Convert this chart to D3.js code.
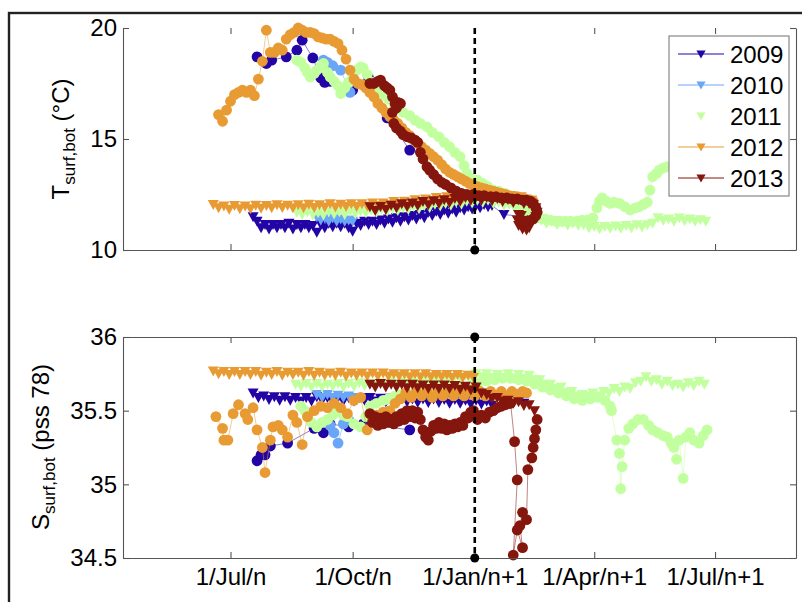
<!DOCTYPE html>
<html><head><meta charset="utf-8">
<script src="https://cdn.jsdelivr.net/npm/d3@7"></script>
<style>
body{margin:0;background:#fff}
svg{display:block}
text{font-family:"Liberation Sans",Arial,sans-serif;fill:#000}
</style>
</head><body>
<svg id="c" width="802" height="602"></svg>
<script>
// ---------- axis / category data ----------
const xTickDays = [181, 273, 365, 455, 546];
const xTickLabels = ["1/Jul/n", "1/Oct/n", "1/Jan/n+1", "1/Apr/n+1", "1/Jul/n+1"];
const tTicks = [10, 15, 20];
const sTicks = [34.5, 35, 35.5, 36];
const years = ["2009", "2010", "2011", "2012", "2013"];
const yearColors = ["#2305a5", "#6aa6f8", "#c2ff9e", "#e89b33", "#84160d"];
const markerDay = 365;

// ---------- temperature: surface (circles) ----------
const tSurf2009Days = [201, 208, 212, 223, 231, 235, 243, 249, 252, 256, 273, 285, 299, 316];
const tSurf2009 = [18.7, 18.4, 18.55, 18.7, 19.0, 19.45, 18.65, 17.75, 17.55, 17.6, 17.2, 17.75, 15.95, 14.5];
const tSurf2010Days = [251, 254, 258, 264, 269, 271];
const tSurf2010 = [18.55, 18.45, 18.3, 18.1, 17.4, 17.1];
const tSurf2011Days = [231,234,237,239,241,244,246,249,251,254,256,259,262,264,267,270,273,276,279,281,284,288,292,296,300,304,308,311,316,320,324,329,333,338,342,346,350,354,357,359,363,367,371,375,379,383,388,392,396,400,404,408,411,414,418,422,426,429,433,437,442,446,450,454,457,459,461,464,467,470,474,478,482,486,489,492,495,497,499,502,504,507,510];
const tSurf2011 = [18.55,18.45,18.2,18.0,17.8,17.95,18.1,18.3,18.4,18.0,17.8,17.6,17.4,17.05,17.3,17.55,17.8,18.1,18.25,18.2,17.9,17.55,17.2,17.0,16.8,16.6,16.4,16.2,16.05,15.85,15.7,15.55,15.3,15.1,14.85,14.65,14.4,14.2,13.8,13.45,13.2,13.15,13.0,12.85,12.7,12.65,12.55,12.4,12.35,12.2,11.95,11.75,11.55,11.45,11.4,11.35,11.3,11.3,11.3,11.3,11.3,11.35,11.35,11.45,11.9,12.2,12.35,12.2,12.1,12.15,12.1,11.95,11.8,11.9,11.95,12.05,12.15,12.7,13.3,13.45,13.6,13.7,13.75];
const tSurf2012Start = 172, tSurf2012Step = 3;
const tSurf2012 = [16.1,15.8,16.3,16.7,17.0,17.1,17.2,17.1,17.2,16.95,17.7,18.5,19.9,18.9,18.9,19.1,19.0,19.5,19.7,19.8,20.0,19.9,19.8,19.8,19.75,19.6,19.55,19.5,19.5,19.4,19.3,19.0,18.6,18.1,17.7,17.5,17.45,17.3,17.1,16.9,16.6,16.4,16.2,16.0,15.85,15.7,15.5,15.3,15.15,14.95,14.8,14.65,14.5,14.35,14.2,14.05,13.85,13.65,13.5,13.4,13.3,13.2,13.1,13.0,12.9,12.85,12.8,12.75,12.7,12.65,12.6,12.55,12.5,12.45,12.4,12.4,12.35,12.3,12.25,12.2];
const tSurf2013Days = [286,289,292,294,297,299,301,303,305,307,309,306,303,304,306,309,311,314,317,320,322,324,326,329,331,334,337,340,343,347,351,355,359,364,368,372,377,381,385,389,393,397,401,404,407,409,411,412,411,409,406,403,400];
const tSurf2013 = [17.5,17.5,17.6,17.65,17.4,17.3,17.2,16.9,16.6,16.65,16.6,16.4,16.2,15.7,15.5,15.35,15.2,15.1,15.05,14.95,14.85,14.4,14.1,13.75,13.6,13.4,13.2,13.05,12.95,12.8,12.65,12.55,12.5,12.5,12.45,12.45,12.4,12.4,12.35,12.35,12.3,12.3,12.25,12.25,12.2,12.1,11.9,11.7,11.55,11.4,11.3,11.3,11.35];

// ---------- temperature: bottom (triangles) ----------
const tBot2009Start = 198, tBot2009Step = 3;
const tBot2009 = [11.5,11.3,11.0,11.15,10.95,11.15,11.0,11.15,11.0,11.2,10.95,11.15,11.0,11.15,11.0,11.1,10.8,11.15,11.0,11.2,11.05,11.2,11.05,11.2,11.0,10.85,11.2,11.1,11.3,11.15,11.3,11.15,11.35,11.2,11.4,11.25,11.45,11.3,11.5,11.35,11.55,11.4,11.6,11.45,11.7,11.55,11.75,11.6,11.8,11.65,11.85,11.7,11.9,11.8,11.95,11.85,12.0,11.9,12.05,11.95,12.0];
const tBot2009TailDays = [387, 402];
const tBot2009Tail = [11.6, 11.5];
const tBot2010Start = 246, tBot2010Step = 3;
const tBot2010 = [11.5,11.35,11.45,11.3,11.45,11.3,11.4,11.3,11.35,11.3];
const tBot2011Start = 231, tBot2011Step = 4;
const tBot2011 = [11.7,11.6,11.72,11.58,11.68,11.58,11.72,11.62,11.72,11.6,11.75,11.64,11.76,11.68,11.8,11.7,11.85,11.74,11.86,11.78,11.9,11.82,11.96,11.86,12.0,11.92,12.06,11.98,12.1,12.02,12.16,12.06,12.2,12.12,12.24,12.14,12.24,12.1,12.15,12.0,12.05,11.9,11.88,11.66,11.58,11.36,11.34,11.2,11.3,11.15,11.25,11.12,11.2,11.12,11.14,11.0,11.06,10.96,11.06,10.98,11.08,10.98,11.1,11.0,11.14,11.04,11.14,11.2,11.45,11.34,11.4,11.3,11.44,11.32,11.4,11.3,11.36,11.3];
const tBot2012Start = 168, tBot2012Step = 4;
const tBot2012 = [12.05,11.9,11.98,11.84,12.0,11.86,11.98,11.86,12.02,11.88,12.0,11.9,12.04,11.92,12.02,11.9,12.04,11.9,12.06,11.92,12.04,11.94,12.08,11.94,12.06,11.96,12.08,11.96,12.08,11.98,12.12,12.0,12.12,12.04,12.18,12.06,12.2,12.1,12.26,12.14,12.3,12.2,12.36,12.24,12.4,12.3,12.44,12.34,12.5,12.4,12.54,12.44,12.56,12.44,12.52,12.4,12.46,12.36,12.4,12.3,12.25];
const tBot2013Start = 286, tBot2013Step = 4;
const tBot2013 = [11.95,11.78,11.96,11.82,12.02,11.9,12.08,11.96,12.12,12.0,12.18,12.04,12.22,12.1,12.26,12.14,12.32,12.2,12.36,12.24,12.4,12.24,12.36,12.22,12.32,12.18,12.28,12.14,12.26,12.1,12.1];
const tBot2013TailDays = [409,411,412,411,408,404,400,398,397,398,401,404,406];
const tBot2013Tail = [12.05,11.9,11.7,11.5,11.35,11.3,11.55,11.6,11.35,11.1,10.95,10.9,11.0];

// ---------- salinity: surface (circles) ----------
const sSurf2009Days = [201, 204, 207, 211, 224, 244, 251, 256, 270, 281, 316];
const sSurf2009 = [35.16, 35.2, 35.2, 35.26, 35.28, 35.38, 35.35, 35.41, 35.39, 35.41, 35.37];
const sSurf2010Days = [256, 259, 262, 266, 270];
const sSurf2010 = [35.4, 35.35, 35.28, 35.41, 35.44];
const sSurf2011Days = [234,237,239,242,246,250,254,258,262,266,269,274,279,283,286,291,296,300,305,309,314,320,326,332,338,344,350,356,362,368,374,380,386,392,398,404,410,416,422,428,434,440,446,452,458,463,467,468,472,474,475,476,478,481,484,488,492,496,499,503,507,510,513,515,517,519,522,524,527,530,534,537,540];
const sSurf2011 = [35.53,35.5,35.46,35.42,35.39,35.42,35.44,35.47,35.5,35.47,35.46,35.41,35.39,35.46,35.53,35.55,35.57,35.58,35.6,35.61,35.62,35.62,35.63,35.63,35.64,35.64,35.65,35.66,35.67,35.69,35.7,35.71,35.72,35.72,35.71,35.7,35.68,35.66,35.64,35.62,35.6,35.58,35.57,35.58,35.59,35.57,35.53,35.5,35.3,35.21,34.97,35.12,35.3,35.38,35.41,35.44,35.44,35.4,35.37,35.35,35.33,35.32,35.28,35.25,35.17,35.3,35.04,35.32,35.35,35.3,35.28,35.33,35.37];
const sSurf2012Days = [170,175,176,179,183,187,192,194,198,201,205,207,211,213,217,220,224,228,231,235,239,244,249,254,259,264,269,274,279,284,288,291,296,301,305,309,313,317,321,325,329,333,337,341,345,349,353,357,361,365,369,373,377,381,385,389,393,397,401,404];
const sSurf2012 = [35.46,35.38,35.3,35.3,35.48,35.54,35.48,35.44,35.52,35.37,35.25,35.08,35.3,35.39,35.4,35.37,35.32,35.47,35.42,35.27,35.46,35.5,35.53,35.52,35.55,35.52,35.48,35.57,35.59,35.37,35.44,35.47,35.49,35.5,35.55,35.58,35.62,35.59,35.63,35.6,35.63,35.59,35.63,35.6,35.64,35.6,35.63,35.6,35.64,35.6,35.63,35.6,35.63,35.6,35.63,35.6,35.63,35.61,35.63,35.62];
const sSurf2013Days = [286,288,290,292,294,296,298,300,302,304,306,308,310,312,314,316,318,320,322,324,326,328,330,332,334,336,338,340,342,344,346,348,350,352,354,356,358,360,362,364,367,370,373,376,379,382,385,388,391,392,395,397,394,397,401,399,401,404,405,408,409,410,411,412];
const sSurf2013 = [35.48,35.42,35.46,35.4,35.45,35.41,35.46,35.42,35.44,35.41,35.46,35.43,35.48,35.44,35.5,35.46,35.5,35.45,35.49,35.44,35.37,35.32,35.3,35.36,35.4,35.38,35.42,35.38,35.41,35.37,35.4,35.38,35.41,35.39,35.42,35.4,35.46,35.45,35.49,35.5,35.44,35.47,35.45,35.49,35.5,35.52,35.53,35.54,35.55,35.55,35.29,35.03,34.52,34.69,34.57,34.72,34.81,34.76,35.1,35.18,35.25,35.31,35.37,35.44];

// ---------- salinity: bottom (triangles) ----------
const sBot2009Start = 198, sBot2009Step = 4;
const sBot2009 = [35.62,35.59,35.6,35.575,35.595,35.57,35.595,35.57,35.59,35.565,35.59,35.565,35.595,35.57,35.59,35.565,35.59,35.565,35.59,35.565,35.59,35.57,35.59,35.565,35.585,35.56,35.585,35.56,35.585,35.56,35.58,35.555,35.58,35.555,35.58,35.555,35.575,35.55,35.575,35.55,35.57,35.545,35.57,35.545,35.565,35.54];
const sBot2009TailDays = [387, 402];
const sBot2009Tail = [35.54, 35.55];
const sBot2010Start = 246, sBot2010Step = 4;
const sBot2010 = [35.61,35.59,35.61,35.59,35.605,35.59,35.6,35.59];
const sBot2011Start = 230, sBot2011Step = 4;
const sBot2011 = [35.68,35.665,35.685,35.66,35.685,35.66,35.68,35.665,35.685,35.66,35.685,35.665,35.69,35.67,35.685,35.67,35.69,35.675,35.7,35.675,35.7,35.685,35.71,35.69,35.71,35.7,35.72,35.7,35.73,35.71,35.73,35.72,35.74,35.725,35.75,35.73,35.75,35.725,35.745,35.725,35.75,35.72,35.745,35.72,35.74,35.71,35.71,35.68,35.68,35.65,35.66,35.625,35.63,35.6,35.61,35.6,35.62,35.6,35.63,35.62,35.65,35.63,35.66,35.65,35.69,35.7,35.73,35.7,35.71,35.68,35.7,35.67,35.68,35.66,35.69,35.67,35.7,35.68];
const sBot2012Start = 168, sBot2012Step = 4;
const sBot2012 = [35.77,35.75,35.765,35.745,35.765,35.745,35.765,35.745,35.765,35.74,35.76,35.745,35.765,35.74,35.76,35.745,35.76,35.74,35.765,35.74,35.76,35.74,35.755,35.74,35.76,35.735,35.755,35.74,35.755,35.735,35.755,35.735,35.755,35.735,35.75,35.735,35.75,35.73,35.75,35.73,35.75,35.73,35.745,35.73,35.745,35.725,35.745,35.725,35.74,35.725];
const sBot2013Start = 286, sBot2013Step = 4;
const sBot2013 = [35.68,35.66,35.685,35.66,35.68,35.66,35.68,35.655,35.68,35.655,35.675,35.65,35.675,35.65,35.675,35.65,35.67,35.645,35.665,35.64,35.66,35.62,35.61,35.585,35.59,35.565,35.57,35.55,35.56,35.535,35.54,35.5];

// ---------- helpers ----------
const reg = (start, step, vals) => vals.map((v, i) => [start + i * step, v]);
const irr = (days, vals) => vals.map((v, i) => [days[i], v]);

const tSeries = [
  {y:0, kind:"bot", pts: reg(tBot2009Start, tBot2009Step, tBot2009).concat(irr(tBot2009TailDays, tBot2009Tail))},
  {y:0, kind:"surf", pts: irr(tSurf2009Days, tSurf2009)},
  {y:1, kind:"bot", pts: reg(tBot2010Start, tBot2010Step, tBot2010)},
  {y:1, kind:"surf", pts: irr(tSurf2010Days, tSurf2010)},
  {y:2, kind:"bot", pts: reg(tBot2011Start, tBot2011Step, tBot2011)},
  {y:2, kind:"surf", pts: irr(tSurf2011Days, tSurf2011)},
  {y:3, kind:"bot", pts: reg(tBot2012Start, tBot2012Step, tBot2012)},
  {y:3, kind:"surf", pts: reg(tSurf2012Start, tSurf2012Step, tSurf2012)},
  {y:4, kind:"bot", pts: reg(tBot2013Start, tBot2013Step, tBot2013).concat(irr(tBot2013TailDays, tBot2013Tail))},
  {y:4, kind:"surf", pts: irr(tSurf2013Days, tSurf2013)}
];
const sSeries = [
  {y:0, kind:"bot", pts: reg(sBot2009Start, sBot2009Step, sBot2009).concat(irr(sBot2009TailDays, sBot2009Tail))},
  {y:0, kind:"surf", pts: irr(sSurf2009Days, sSurf2009)},
  {y:1, kind:"bot", pts: reg(sBot2010Start, sBot2010Step, sBot2010)},
  {y:1, kind:"surf", pts: irr(sSurf2010Days, sSurf2010)},
  {y:2, kind:"bot", pts: reg(sBot2011Start, sBot2011Step, sBot2011)},
  {y:2, kind:"surf", pts: irr(sSurf2011Days, sSurf2011)},
  {y:3, kind:"bot", pts: reg(sBot2012Start, sBot2012Step, sBot2012)},
  {y:3, kind:"surf", pts: irr(sSurf2012Days, sSurf2012)},
  {y:4, kind:"bot", pts: reg(sBot2013Start, sBot2013Step, sBot2013)},
  {y:4, kind:"surf", pts: irr(sSurf2013Days, sSurf2013)}
];

// ---------- drawing ----------
const svg = d3.select("#c");
svg.append("rect").attr("width", 802).attr("height", 602).attr("fill", "#fff");
svg.append("rect").attr("x", 9).attr("y", 13).attr("width", 1000).attr("height", 1000)
  .attr("fill", "none").attr("stroke", "#222").attr("stroke-width", 2.4);

const L = 123, R = 796;
const x = d3.scaleLinear().domain([100, 607]).range([L, R]);
const yT = d3.scaleLinear().domain([10, 20]).range([250, 28]);
const yS = d3.scaleLinear().domain([34.5, 36]).range([558, 337]);
const triPlot = "M-5.5,-4.5L5.5,-4.5L0,5.5Z";
const triLegend = "M-4.6,-3.6L4.6,-3.6L0,4.6Z";
const axisColor = "#555";

function styleAxis(g) {
  g.selectAll("path.domain").attr("stroke", axisColor).attr("stroke-width", 1.1);
  g.selectAll(".tick line").attr("stroke", axisColor).attr("stroke-width", 1.1);
  g.selectAll("text").attr("font-size", 24).attr("font-family", "Liberation Sans, Arial, sans-serif").attr("fill", "#000");
}

function panel(y, ticks, series, showXLabels, drawTop, dotTop) {
  const top = y.range()[1], bot = y.range()[0];
  const g = svg.append("g");
  const line = d3.line().x(d => x(d[0])).y(d => y(d[1]));
  series.forEach(s => {
    const col = yearColors[s.y];
    g.append("path").attr("d", line(s.pts)).attr("fill", "none")
      .attr("stroke", col).attr("stroke-width", 0.7).attr("opacity", 0.75);
    if (s.kind === "surf") {
      g.selectAll(null).data(s.pts).join("circle")
        .attr("cx", d => x(d[0])).attr("cy", d => y(d[1])).attr("r", 5.4).attr("fill", col);
    } else {
      g.selectAll(null).data(s.pts).join("path")
        .attr("d", triPlot).attr("transform", d => `translate(${x(d[0])},${y(d[1])})`).attr("fill", col);
    }
  });
  const ax = svg.append("g");
  const left = ax.append("g").attr("transform", `translate(${L},0)`)
    .call(d3.axisLeft(y).tickValues(ticks).tickFormat(d => d).tickSizeInner(-6).tickSizeOuter(0).tickPadding(6));
  styleAxis(left);
  const right = ax.append("g").attr("transform", `translate(${R},0)`)
    .call(d3.axisRight(y).tickValues(ticks).tickFormat("").tickSizeInner(-6).tickSizeOuter(0));
  styleAxis(right);
  const bottom = ax.append("g").attr("transform", `translate(0,${bot})`)
    .call(d3.axisBottom(x).tickValues(xTickDays).tickFormat((d, i) => showXLabels ? xTickLabels[i] : "")
      .tickSizeInner(-6).tickSizeOuter(0).tickPadding(10));
  styleAxis(bottom);
  const topAx = ax.append("g").attr("transform", `translate(0,${top})`)
    .call(d3.axisTop(x).tickValues(xTickDays).tickFormat("").tickSizeInner(-6).tickSizeOuter(0));
  styleAxis(topAx);
  if (!drawTop) topAx.select("path.domain").remove();
  const xm = x(markerDay);
  ax.append("line").attr("x1", xm).attr("x2", xm).attr("y1", top).attr("y2", bot)
    .attr("stroke", "#000").attr("stroke-width", 2.6).attr("stroke-dasharray", "6,4");
  ax.append("circle").attr("cx", xm).attr("cy", bot).attr("r", 4.5).attr("fill", "#000");
  if (dotTop) ax.append("circle").attr("cx", xm).attr("cy", top).attr("r", 4.5).attr("fill", "#000");
}

panel(yT, tTicks, tSeries, false, false, false);
panel(yS, sTicks, sSeries, true, true, true);

function ytitle(tx, ty, main, rest) {
  const t = svg.append("text").attr("transform", `translate(${tx},${ty}) rotate(-90)`)
    .attr("text-anchor", "middle").attr("font-size", 24);
  t.append("tspan").text(main);
  t.append("tspan").attr("font-size", 17).attr("dy", 6).text("surf,bot");
  t.append("tspan").attr("dy", -6).text(rest);
}
ytitle(69, 139, "T", " (\u00B0C)");
ytitle(49, 447, "S", " (pss 78)");

const lg = svg.append("g");
lg.append("rect").attr("x", 669).attr("y", 36).attr("width", 120).attr("height", 160)
  .attr("fill", "#fff").attr("stroke", "#888").attr("stroke-width", 1.2);
years.forEach((yr, i) => {
  const cy = 54 + i * 31;
  if (i !== 2) lg.append("line").attr("x1", 678).attr("x2", 724).attr("y1", cy).attr("y2", cy)
    .attr("stroke", yearColors[i]).attr("stroke-width", 1);
  lg.append("path").attr("d", triLegend).attr("transform", `translate(701,${cy})`).attr("fill", yearColors[i]);
  lg.append("text").attr("x", 730).attr("y", cy).attr("dy", "0.36em").attr("font-size", 24).text(yr);
});
</script>
</body></html>
